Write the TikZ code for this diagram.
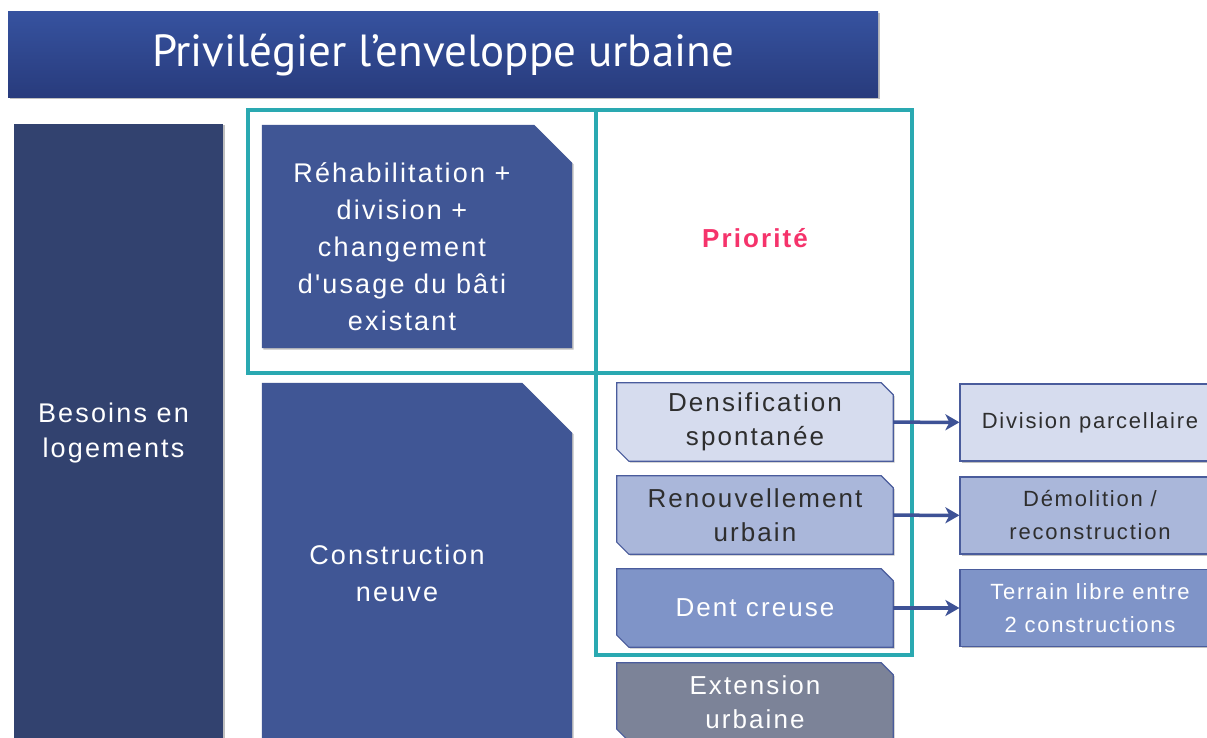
\documentclass[tikz,border=0pt]{standalone}
\usepackage{fontspec}
\setmainfont{Liberation Sans}[LetterSpace=8,Ligatures=TeXOff]
\newfontfamily\titlefont{PT Sans}
\usetikzlibrary{calc,arrows.meta,shadows,backgrounds}

\definecolor{titletop}{HTML}{36529F}
\definecolor{titlebot}{HTML}{283B7C}
\definecolor{navyfill}{HTML}{32426F}
\definecolor{midfill}{HTML}{405695}
\definecolor{frameteal}{HTML}{2AA9B1}
\definecolor{palefill}{HTML}{D6DCEE}
\definecolor{softfill}{HTML}{AAB7DA}
\definecolor{deepfill}{HTML}{7F94C8}
\definecolor{greyfill}{HTML}{7C8398}
\definecolor{edgeblue}{HTML}{4A5C9C}
\definecolor{arrowblue}{HTML}{3E5296}
\definecolor{hotpink}{HTML}{F5336B}
\definecolor{txtdark}{HTML}{2E2E2E}

% box with its top right corner cut off
\newcommand\cutbox[3]{%
  \begin{scope}[on background layer]
    \path[#3] (#1.north west) -- ($(#1.north east)+(-#2,0)$) -- ($(#1.north east)+(0,#2)$)
      -- (#1.south east) -- (#1.south west) -- cycle;
  \end{scope}}
% box with top right and bottom left corners cut off
\newcommand\snipbox[3]{%
  \begin{scope}[on background layer]
    \path[#3] (#1.north west) -- ($(#1.north east)+(-#2,0)$) -- ($(#1.north east)+(0,#2)$)
      -- (#1.south east) -- ($(#1.south west)+(#2,0)$) -- ($(#1.south west)+(0,-#2)$) -- cycle;
  \end{scope}}

\tikzset{
  shade/.style={drop shadow={shadow xshift=1.5pt,shadow yshift=-1.5pt,opacity=.25,fill=black}},
  titlebar/.style={rectangle,top color=titletop,bottom color=titlebot,minimum width=870pt,
    minimum height=86pt,inner sep=0pt,text=white,font=\titlefont\fontsize{45}{50}\selectfont,shade},
  bigbox/.style={rectangle,inner sep=0pt,minimum width=310pt},
  bigtext/.style={align=center,text=white,font=\fontsize{27}{37}\selectfont},
  smallbox/.style={rectangle,inner sep=0pt,minimum width=276pt,minimum height=78pt,
    align=center,font=\fontsize{26}{34}\selectfont},
  smallfill/.style={fill=#1,draw=edgeblue,line width=1.2pt,shade},
  resultbox/.style={rectangle,draw=edgeblue,line width=1.2pt,inner sep=0pt,minimum width=260pt,
    minimum height=77pt,align=center,font=\fontsize{22}{33}\selectfont,shade},
  frame/.style={draw=frameteal,line width=4pt},
  link/.style={draw=arrowblue,line width=3.5pt,-{Stealth[length=14pt,width=16pt,inset=4pt]}}
}

\begin{document}
\begin{tikzpicture}[x=1pt,y=-1pt]
  \useasboundingbox (0,0) rectangle (1207,738);
  \begin{scope}[on background layer]
    \fill[white] (0,0) rectangle (1207,738);
  \end{scope}

  % title
  \node[titlebar] (title) at (443,55) {Privilégier l’enveloppe urbaine};

  % teal frames
  \draw[frame] (248,110) rectangle (912,373);
  \draw[frame] (596,110) -- (596,655) -- (912,655) -- (912,373);

  % left column
  \node[rectangle,fill=navyfill,minimum width=209pt,minimum height=618pt,inner sep=0pt,
    shade] (besoins) at (118.5,433) {};
  \node[align=center,text=white,font=\fontsize{27}{35}\selectfont] (besoinstxt)
    at ($(besoins.center)+(-5,0)$) {Besoins en\\logements};

  \node[bigbox,minimum height=223pt] (rehab) at (417,236.5) {};
  \cutbox{rehab}{38}{fill=midfill,shade}
  \node[bigtext] (rehabtxt) at ($(rehab.center)+(-15,10)$)
    {Réhabilitation +\\division +\\changement\\d'usage du bâti\\existant};

  \node[bigbox,minimum height=380pt] (constr) at (417,573) {};
  \cutbox{constr}{50}{fill=midfill,shade}
  \node[bigtext] (constrtxt) at ($(constr.center)+(-20,0)$) {Construction\\neuve};

  \node[text=hotpink,font=\bfseries\fontsize{26}{30}\selectfont] (prio) at (755,238) {Priorité};

  % modes
  \node[smallbox,text=txtdark] (dens) at (755,422) {Densification\\spontanée};
  \snipbox{dens}{12}{smallfill=palefill}
  \node[smallbox,text=txtdark] (renouv) at (755,515) {Renouvellement\\urbain};
  \snipbox{renouv}{12}{smallfill=softfill}
  \node[smallbox,text=white] (dent) at (755,608) {Dent creuse};
  \snipbox{dent}{12}{smallfill=deepfill}
  \node[smallbox,text=white] (ext) at (755,702) {Extension\\urbaine};
  \snipbox{ext}{12}{smallfill=greyfill}

  % results
  \node[resultbox,fill=palefill,text=txtdark] (divp) at (1090,422.5) {Division parcellaire};
  \node[resultbox,fill=softfill,text=txtdark] (demol) at (1090,515.5) {Démolition /\\reconstruction};
  \node[resultbox,fill=deepfill,text=white] (terrain) at (1090,608) {Terrain libre entre\\2 constructions};

  \draw[link] (dens) -- (divp);
  \draw[link] (renouv) -- (demol);
  \draw[link] (dent) -- (terrain);
\end{tikzpicture}
\end{document}
